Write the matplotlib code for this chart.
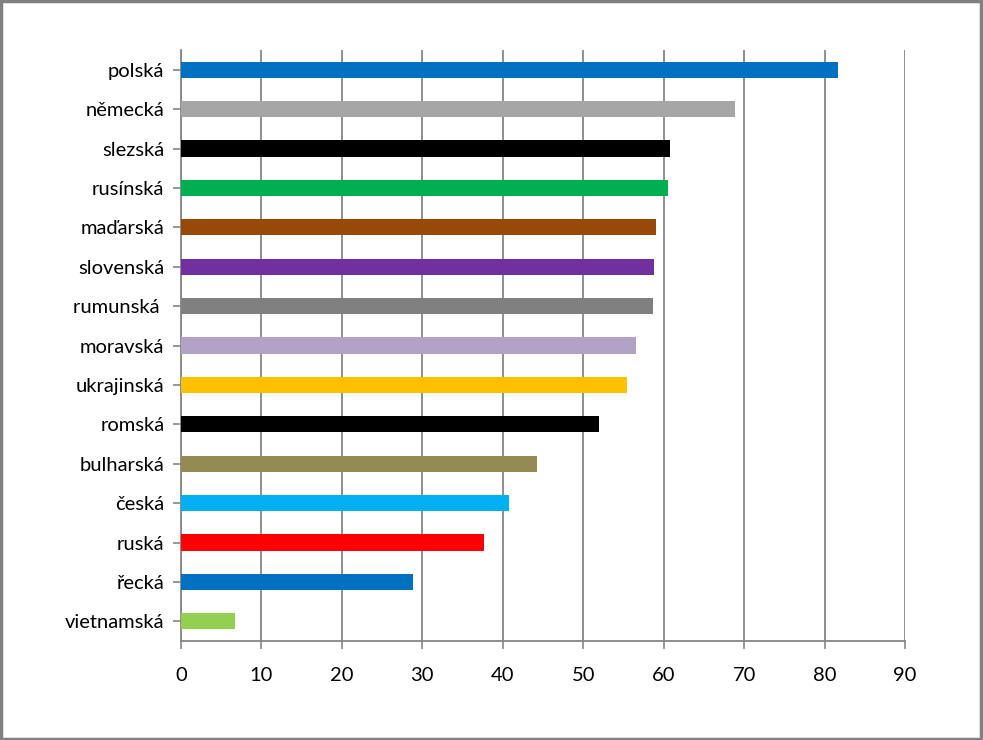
import matplotlib
matplotlib.use('Agg')
import matplotlib.pyplot as plt
from matplotlib.patches import Rectangle

plt.rcParams['font.family'] = ['Lato', 'DejaVu Sans']

labels = ['polská', 'německá', 'slezská', 'rusínská', 'maďarská', 'slovenská',
          'rumunská ', 'moravská', 'ukrajinská', 'romská', 'bulharská', 'česká',
          'ruská', 'řecká', 'vietnamská']
values = [81.7, 68.9, 60.8, 60.5, 59.0, 58.8, 58.7, 56.6, 55.4, 51.9, 44.3,
          40.8, 37.7, 28.8, 6.7]
colors = ['#0070C0', '#A6A6A6', '#000000', '#00B050', '#984807', '#7030A0',
          '#808080', '#B3A2C7', '#FFC000', '#000000', '#948A54', '#00B0F0',
          '#FF0000', '#0070C0', '#92D050']

fig = plt.figure(figsize=(9.83, 7.4), dpi=100)
ax = fig.add_axes([181 / 983, 1 - 641 / 740, (905 - 181) / 983, (641 - 50) / 740])

pos = list(range(len(labels)))[::-1]
ax.barh(pos, values, height=0.41, color=colors, zorder=3)

ax.set_xlim(0, 90)
ax.set_ylim(-0.5, len(labels) - 0.5)
ax.set_xticks(range(0, 91, 10))
ax.set_yticks(pos)
ax.set_yticklabels(labels)
ax.tick_params(axis='both', labelsize=14.5, colors='#868686', labelcolor='black',
               length=6, width=1.2)
ax.tick_params(axis='x', pad=13)
ax.tick_params(axis='y', pad=6)
ax.grid(axis='x', color='#868686', linewidth=1.3, zorder=0)
for s in ['top', 'right']:
    ax.spines[s].set_visible(False)
for s in ['left', 'bottom']:
    ax.spines[s].set_color('#868686')
    ax.spines[s].set_linewidth(1.3)

fig.patches.append(Rectangle((0.001, 0.002), 0.997, 0.996, transform=fig.transFigure,
                             fill=False, edgecolor='#808080', linewidth=2.5))

fig.savefig('out.png', dpi=100)
